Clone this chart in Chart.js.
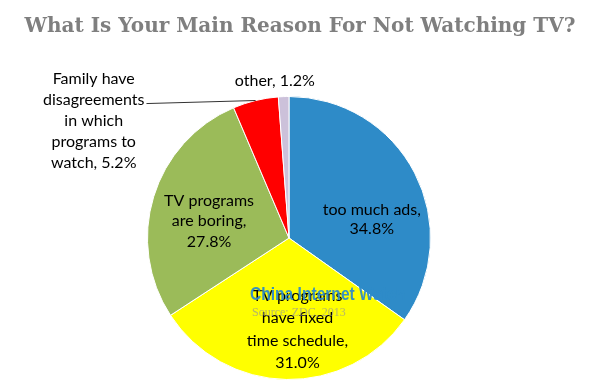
<!DOCTYPE html>
<html>
<head>
<meta charset="utf-8">
<script src="https://cdn.jsdelivr.net/npm/chart.js@4/dist/chart.umd.min.js"></script>
<style>
  html, body { margin: 0; padding: 0; background: #fff; }
  #wrap { width: 600px; height: 389px; }
</style>
</head>
<body>
<div id="wrap"><canvas id="pieCanvas"></canvas></div>
<script>
// データ（時計回り、12時の位置から）
const categories = [
  "too much ads",
  "TV programs have fixed time schedule",
  "TV programs are boring",
  "Family have disagreements in which programs to watch",
  "other",
];
const shares = [34.8, 31.0, 27.8, 5.2, 1.2];
const sliceColors = ["#2E8BC8", "#FFFF00", "#9BBB59", "#FF0000", "#CCC1DA"];
// ラベルの改行
const labelLines = [
  ["too much ads,", "34.8%"],
  ["TV programs", "have fixed", "time schedule,", "31.0%"],
  ["TV programs", "are boring,", "27.8%"],
  ["Family have", "disagreements", "in which", "programs to", "watch, 5.2%"],
  ["other, 1.2%"],
];
const titleText = "What Is Your Main Reason For Not Watching TV?";

// ラベル中心（半径単位、円の中心から）
const labelOffsets = [
  [0.585, -0.13],
  [0.06, 0.645],
  [-0.565, -0.12],
  [-1.38, -0.83],
  [-0.1, -1.11],
];
const lineSpacing = [19, 22.5, 20.5, 21, 20];

const labelFont = '16px Lato, "Open Sans", sans-serif';

const labelPlugin = {
  id: "pieLabels",
  afterDatasetsDraw(chart) {
    const ctx = chart.ctx;
    const arcs = chart.getDatasetMeta(0).data;
    const cx = arcs[0].x;
    const cy = arcs[0].y;
    const r = arcs[0].outerRadius;

    ctx.save();
    ctx.font = labelFont;
    ctx.fillStyle = "#000";
    ctx.textAlign = "center";
    ctx.textBaseline = "middle";
    labelLines.forEach((lines, i) => {
      const x = cx + labelOffsets[i][0] * r;
      const y = cy + labelOffsets[i][1] * r;
      const h = lineSpacing[i];
      const y0 = y - ((lines.length - 1) * h) / 2;
      lines.forEach((t, k) => ctx.fillText(t, x, y0 + k * h));
    });

    // Family のラベルから赤い扇形への引き出し線
    const red = arcs[3];
    const mid = (red.startAngle + red.endAngle) / 2;
    const ex = cx + Math.cos(mid) * r;
    const ey = cy + Math.sin(mid) * r;
    const fx = cx + labelOffsets[3][0] * r;
    const fy = cy + labelOffsets[3][1] * r - lineSpacing[3];
    const wFam = ctx.measureText(labelLines[3][1]).width;
    ctx.strokeStyle = "#333";
    ctx.lineWidth = 1;
    ctx.beginPath();
    ctx.moveTo(fx + wFam / 2 + 2, fy + 4);
    ctx.lineTo(ex, ey);
    ctx.stroke();

    // ウォーターマーク
    ctx.textAlign = "left";
    ctx.textBaseline = "middle";
    ctx.save();
    ctx.translate(cx - 39, cy + 57);
    ctx.scale(0.82, 1);
    ctx.font = 'bold 19px "Liberation Sans", Arial, sans-serif';
    ctx.fillStyle = "rgba(46,139,200,0.95)";
    ctx.fillText("China Internet Watch", 0, 0);
    ctx.restore();
    ctx.font = '12px "Liberation Serif", serif';
    ctx.fillStyle = "rgba(150,150,150,0.7)";
    ctx.fillText("Source: ZDC, 2013", cx - 37, cy + 75);

    // タイトル
    ctx.textAlign = "center";
    ctx.font = 'bold 20px "DejaVu Serif", "Liberation Serif", serif';
    ctx.fillStyle = "#7F7F7F";
    ctx.fillText(titleText, chart.width / 2, 27);
    ctx.restore();
  },
};

new Chart(document.getElementById("pieCanvas"), {
  type: "pie",
  data: {
    labels: categories,
    datasets: [
      {
        data: shares,
        backgroundColor: sliceColors,
        borderColor: "#ffffff",
        borderWidth: 1,
      },
    ],
  },
  options: {
    responsive: true,
    maintainAspectRatio: false,
    animation: false,
    layout: {
      padding: { top: 96, left: 147, right: 169, bottom: 9 },
    },
    plugins: {
      legend: { display: false },
      tooltip: { enabled: false },
      title: { display: false },
    },
  },
  plugins: [labelPlugin],
});
</script>
</body>
</html>
